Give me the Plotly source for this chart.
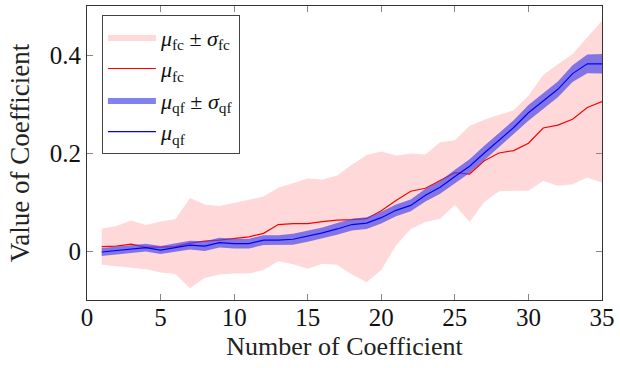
import plotly.graph_objects as go

# Coefficient index
coef = list(range(1, 36))

# Full-covariance estimate: mean and standard deviation per coefficient
mu_fc = [0.009, 0.010, 0.014, 0.008, 0.008, 0.009, 0.016, 0.020, 0.022, 0.026,
         0.029, 0.036, 0.054, 0.056, 0.056, 0.060, 0.063, 0.064, 0.066, 0.082,
         0.103, 0.122, 0.128, 0.144, 0.160, 0.157, 0.184, 0.200, 0.205, 0.220,
         0.251, 0.257, 0.269, 0.293, 0.305]
sd_fc = [0.037, 0.041, 0.048, 0.045, 0.052, 0.056, 0.092, 0.075, 0.070, 0.072,
         0.075, 0.075, 0.075, 0.083, 0.092, 0.086, 0.091, 0.112, 0.130, 0.121,
         0.092, 0.077, 0.069, 0.078, 0.066, 0.098, 0.084, 0.078, 0.082, 0.097,
         0.108, 0.124, 0.133, 0.143, 0.165]

# Quantised-filter estimate: mean and standard deviation per coefficient
mu_qf = [-0.002, 0.001, 0.004, 0.007, 0.002, 0.007, 0.012, 0.010, 0.017, 0.015,
         0.015, 0.022, 0.022, 0.024, 0.030, 0.037, 0.045, 0.054, 0.057, 0.068,
         0.083, 0.093, 0.114, 0.130, 0.152, 0.173, 0.200, 0.227, 0.252, 0.282,
         0.306, 0.330, 0.362, 0.382, 0.382]
sd_qf = [0.008, 0.008, 0.008, 0.008, 0.008, 0.009, 0.009, 0.010, 0.010, 0.010,
         0.010, 0.010, 0.010, 0.011, 0.011, 0.011, 0.012, 0.012, 0.012, 0.012,
         0.012, 0.012, 0.013, 0.013, 0.014, 0.014, 0.015, 0.015, 0.015, 0.016,
         0.016, 0.016, 0.017, 0.019, 0.020]

x_ticks = [0, 5, 10, 15, 20, 25, 30, 35]
y_ticks = [0, 0.2, 0.4]
y_tick_text = ["0", "0.2", "0.4"]

SERIF = "Liberation Serif"


def band(x, mu, sd, name, color):
    """Shaded mean ± std region: hidden upper edge, lower edge filled up to it."""
    upper = [m + s for m, s in zip(mu, sd)]
    lower = [m - s for m, s in zip(mu, sd)]
    top = go.Scatter(x=x, y=upper, mode="lines", line=dict(width=0, color=color),
                     showlegend=False, hoverinfo="skip")
    bottom = go.Scatter(x=x, y=lower, mode="lines", fill="tonexty",
                        fillcolor=color, line=dict(width=0, color=color),
                        name=name, hoverinfo="skip")
    return [top, bottom]


fig = go.Figure()
fig.add_traces(band(coef, mu_fc, sd_fc,
                    "<i>μ</i><sub>fc</sub> ± <i>σ</i><sub>fc</sub>",
                    "rgb(255,217,217)"))
fig.add_trace(go.Scatter(x=coef, y=mu_fc, mode="lines",
                         line=dict(color="rgb(255,0,0)", width=1.2),
                         name="<i>μ</i><sub>fc</sub>"))
fig.add_traces(band(coef, mu_qf, sd_qf,
                    "<i>μ</i><sub>qf</sub> ± <i>σ</i><sub>qf</sub>",
                    "rgba(70,70,235,0.68)"))
fig.add_trace(go.Scatter(x=coef, y=mu_qf, mode="lines",
                         line=dict(color="rgb(0,0,255)", width=1.2),
                         name="<i>μ</i><sub>qf</sub>"))

tick_font = dict(family=SERIF, size=25, color="#111")
title_font = dict(family=SERIF, size=26, color="#222")

fig.update_layout(
    width=620, height=368,
    margin=dict(l=87, r=12, t=5, b=68),
    paper_bgcolor="white", plot_bgcolor="white",
    font=dict(family=SERIF, size=22, color="#111"),
    showlegend=True,
    legend=dict(
        x=0.029, y=0.969, xanchor="left", yanchor="top",
        bordercolor="#444", borderwidth=1, bgcolor="white",
        font=dict(family=SERIF, size=22, color="#111"),
        itemwidth=48, tracegroupgap=0, traceorder="normal",
    ),
)
for upd in (fig.update_xaxes, fig.update_yaxes):
    upd(showgrid=False, zeroline=False, showline=True, linecolor="#333",
        linewidth=1.2, mirror="allticks", ticks="inside", ticklen=6,
        tickcolor="#888", tickwidth=1.2, tickfont=tick_font,
        ticklabeloverflow="allow")

fig.update_xaxes(range=[0, 35], tickvals=x_ticks, ticklabelstandoff=-5,
                 title_text="Number of Coefficient", title_font=title_font,
                 title_standoff=6)
fig.update_yaxes(range=[-0.1, 0.5], tickvals=y_ticks, ticktext=y_tick_text,
                 title_text="Value of Coefficient",
                 title_font=dict(title_font, size=27),
                 title_standoff=12)

fig.write_html("out.html")
